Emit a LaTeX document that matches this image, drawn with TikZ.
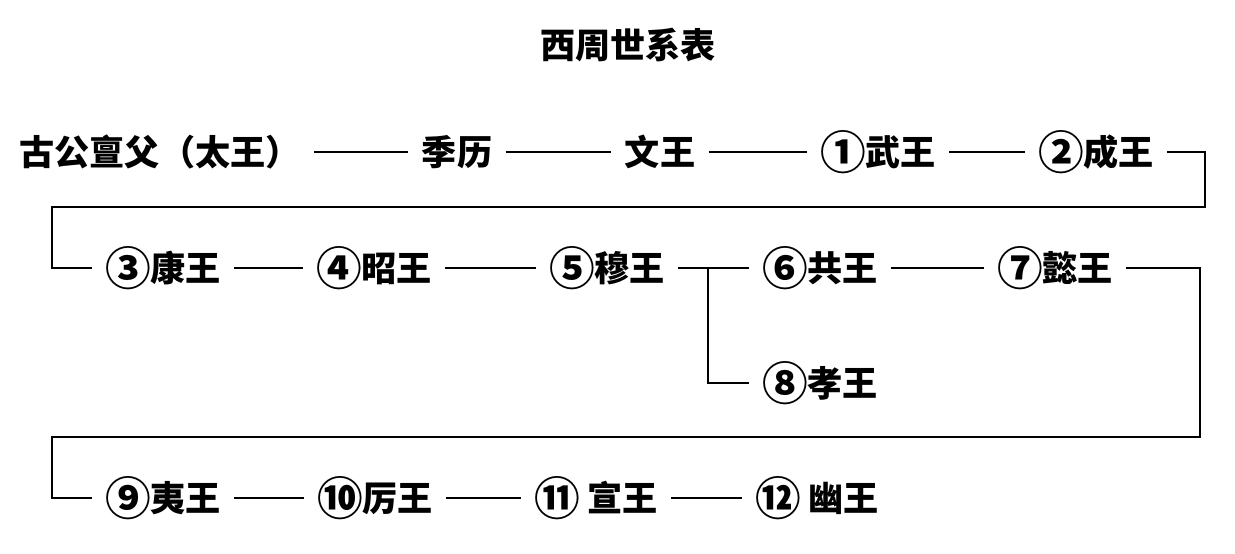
\documentclass[tikz,border=0pt]{standalone}
\usepackage{fontspec}
\newfontfamily\cjk{Noto Sans CJK SC}
\newcommand{\rank}[1]{\raisebox{-0.12em}{\scalebox{1.3}{#1}}}

\begin{document}
\begin{tikzpicture}[x = 0.02cm, y = -0.02cm, line width = 1pt,
  king/.style = {inner xsep = 0.25cm, inner ysep = 0pt, font = \cjk\bfseries\fontsize{20}{20}\selectfont}]

\useasboundingbox (0,0) rectangle (1235,554);

\node [king] (title) at (628,45) {西周世系表};

% first row
\node [king] (gugong) at (160,152) {古公亶父（太王）};
\node [king] (jili) at (457,152) {季历};
\node [king] (wen) at (660,152) {文王};
\node [king] (wu) at (878,152) {\rank{①}武王};
\node [king] (cheng) at (1096,152) {\rank{②}成王};

% second row
\node [king] (kang) at (163,268) {\rank{③}康王};
\node [king] (zhao) at (374,268) {\rank{④}昭王};
\node [king] (mu) at (607,268) {\rank{⑤}穆王};
\node [king] (gong) at (820,268) {\rank{⑥}共王};
\node [king] (yiwang) at (1055,268) {\rank{⑦}懿王};
\node [king] (xiao) at (820,383) {\rank{⑧}孝王};

% third row
\node [king] (yi) at (163,498) {\rank{⑨}夷王};
\node [king] (li) at (375,498) {\rank{⑩}厉王};
\node [king] (xuan) at (596,498) {\rank{⑪} 宣王};
\node [king] (you) at (817,498) {\rank{⑫} 幽王};

\coordinate (turnA) at (1205,207);
\coordinate (turnB) at (52,207);
\coordinate (turnC) at (1200,437);
\coordinate (turnD) at (52,437);
\coordinate (fork) at (708,268);

\draw (gugong.east) -- (jili.west);
\draw (jili.east) -- (wen.west);
\draw (wen.east) -- (wu.west);
\draw (wu.east) -- (cheng.west);
\draw (cheng.east) -| (turnA) -- (turnB) |- (kang.west);

\draw (kang.east) -- (zhao.west);
\draw (zhao.east) -- (mu.west);
\draw (mu.east) -- (gong.west);
\draw (fork) |- (xiao.west);
\draw (gong.east) -- (yiwang.west);
\draw (yiwang.east) -| (turnC) -- (turnD) |- (yi.west);

\draw (yi.east) -- (li.west);
\draw (li.east) -- (xuan.west);
\draw (xuan.east) -- (you.west);

\end{tikzpicture}
\end{document}
